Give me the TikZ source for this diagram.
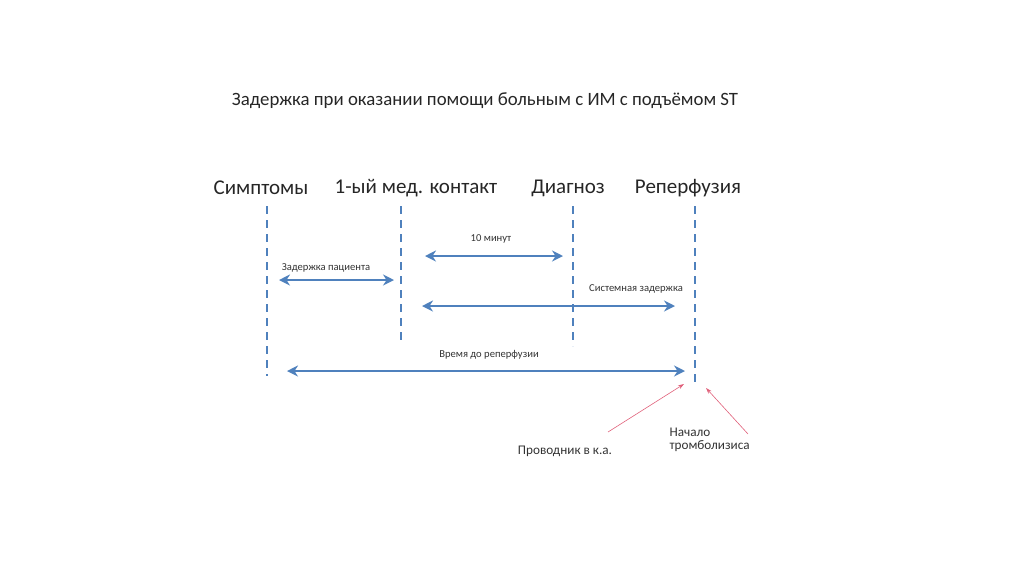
\documentclass[tikz,border=0pt]{standalone}
\usepackage{fontspec}
\setmainfont{Carlito}
\usepackage{xcolor}
\usetikzlibrary{arrows.meta,positioning}
\definecolor{lineblue}{HTML}{4F81BD}
\definecolor{pointred}{HTML}{E0607A}

\begin{document}
\begin{tikzpicture}[x=1pt, y=-1pt,
  head/.style={font=\fontsize{21}{24}\selectfont, text=black!85},
  lbl/.style={font=\fontsize{10.6}{12}\selectfont, text=black!80},
  note/.style={font=\fontsize{13.2}{15}\selectfont, text=black!80, align=left},
  timeline/.style={draw=lineblue, line width=2.2pt, dash pattern=on 8pt off 6pt},
  e/.style={{Stealth[length=11pt,width=11pt]}-{Stealth[length=11pt,width=11pt]}, draw=lineblue, line width=2.8pt},
  ptr/.style={-{Stealth[length=6pt,width=4pt]}, draw=pointred, line width=0.6pt}
]
  \useasboundingbox (0,0) rectangle (1024,574);
  \node[font=\fontsize{18.8}{22}\selectfont, text=black!85] (title) at (485,101) {Задержка при оказании помощи больным с ИМ с подъёмом ST};

  % events
  \node[head] (symp) at (261,188) {Симптомы};
  \node[head] (fmc)  at (416,188) {1-ый мед. контакт};
  \node[head] (diag) at (568,188) {Диагноз};
  \node[head] (rep)  at (688,188) {Реперфузия};

  \coordinate (s1) at (267,206); \coordinate (s2) at (267,376);
  \coordinate (f1) at (401,206); \coordinate (f2) at (401,342);
  \coordinate (d1) at (573,206); \coordinate (d2) at (573,346);
  \coordinate (r1) at (695,206); \coordinate (r2) at (695,386);
  \draw[timeline] (s1) -- (s2);
  \draw[timeline] (f1) -- (f2);
  \draw[timeline] (d1) -- (d2);
  \draw[timeline] (r1) -- (r2);

  % intervals
  \coordinate (a1) at (425,256); \coordinate (a2) at (563,256);
  \coordinate (b1) at (279,280); \coordinate (b2) at (394,280);
  \coordinate (c1) at (422,306); \coordinate (c2) at (675,306);
  \coordinate (t1) at (287,371); \coordinate (t2) at (685,371);
  \draw[e] (a1) -- (a2);
  \draw[e] (b1) -- (b2);
  \draw[e] (c1) -- (c2);
  \draw[e] (t1) -- (t2);
  \node[lbl] (ten)  at (491,239) {10 минут};
  \node[lbl] (pat)  at (326,268) {Задержка пациента};
  \node[lbl] (sys)  at (636,289) {Системная задержка};
  \node[lbl] (time) at (489,355) {Время до реперфузии};

  % reperfusion options
  \node[note] (wire) at (565,451) {Проводник в к.а.};
  \node[note, anchor=north west] (lysis) at (666,424) {Начало\\[-2pt]тромболизиса};
  \coordinate (ws) at (608,432);
  \coordinate (ls) at (748,434);
  \coordinate (w) at (684,384);
  \coordinate (l) at (706,388);
  \draw[ptr] (ws) -- (w);
  \draw[ptr] (ls) -- (l);
\end{tikzpicture}
\end{document}
